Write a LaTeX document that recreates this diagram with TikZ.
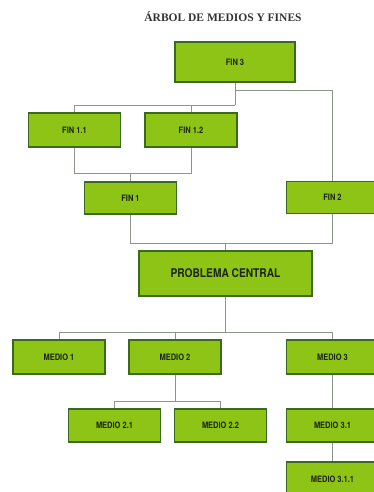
\documentclass[tikz,border=0pt]{standalone}
\usepackage{fontspec}
\setmainfont{Liberation Serif}
\newfontfamily\boxfont[FakeStretch=0.85]{TeX Gyre Heros}
\definecolor{boxfill}{RGB}{142,196,22}
\definecolor{boxline}{RGB}{58,106,30}
\definecolor{linkgray}{RGB}{140,150,140}
\definecolor{labelink}{RGB}{28,36,18}
\tikzset{
  goalbox/.style={draw=boxline, line width=1.2pt, fill=boxfill,
    minimum width=92pt, minimum height=34pt, inner sep=0pt,
    text=labelink, font=\boxfont\bfseries\fontsize{8.8}{10}\selectfont},
  link/.style={draw=linkgray, line width=0.9pt}
}
\begin{document}
\begin{tikzpicture}[x=1pt, y=-1pt]
  \useasboundingbox (0,0) rectangle (374,492);
  \clip (0,0) rectangle (374,492);

  % title
  \node[font=\bfseries\fontsize{11.5}{13}\selectfont, text=black!80] (title) at (223,17) {ÁRBOL DE MEDIOS Y FINES};

  % ends
  \node[goalbox, minimum width=120pt, minimum height=40pt] (fin3) at (235,62) {FIN 3};
  \node[goalbox] (fin11) at (74.5,130) {FIN 1.1};
  \node[goalbox] (fin12) at (191,130) {FIN 1.2};
  \node[goalbox, minimum height=32pt] (fin1) at (130.5,198) {FIN 1};
  \node[goalbox, minimum height=32pt] (fin2) at (332.5,197.5) {FIN 2};

  % central problem
  \node[goalbox, minimum width=173pt, minimum height=45pt,
        font=\boxfont\bfseries\fontsize{12}{14}\selectfont] (pc) at (225.5,273.5) {PROBLEMA CENTRAL};

  % means
  \node[goalbox] (m1) at (59,357) {MEDIO 1};
  \node[goalbox] (m2) at (175,357) {MEDIO 2};
  \node[goalbox] (m3) at (332.5,357) {MEDIO 3};
  \node[goalbox, minimum height=33pt] (m21) at (114.5,425.5) {MEDIO 2.1};
  \node[goalbox, minimum height=33pt] (m22) at (220.5,425.5) {MEDIO 2.2};
  \node[goalbox, minimum height=33pt] (m31) at (332.5,425.5) {MEDIO 3.1};
  \node[goalbox] (m311) at (332.5,479) {MEDIO 3.1.1};

  % junction points
  \coordinate (j3a) at (235,90);
  \coordinate (j3b) at (235,105);
  \coordinate (j1) at (130.5,173);
  \coordinate (jpc) at (225.5,243);
  \coordinate (jm) at (225.5,332);
  \coordinate (j2) at (175,401);

  % connectors, ends
  \draw[link] (fin3.south) -- (j3b);
  \draw[link] (j3a) -| (fin2.north);
  \draw[link] (fin11.north) |- (j3b);
  \draw[link] (fin12.north) -- (fin12.north |- j3b);
  \draw[link] (fin11.south) |- (j1);
  \draw[link] (fin12.south) |- (j1);
  \draw[link] (j1) -- (fin1.north);
  \draw[link] (fin1.south) |- (jpc);
  \draw[link] (fin2.south) |- (jpc);
  \draw[link] (jpc) -- (pc.north);

  % connectors, means
  \draw[link] (pc.south) -- (jm);
  \draw[link] (m1.north) |- (jm);
  \draw[link] (m3.north) |- (jm);
  \draw[link] (m2.north) -- (m2.north |- jm);
  \draw[link] (m2.south) -- (j2);
  \draw[link] (m21.north) |- (j2);
  \draw[link] (m22.north) |- (j2);
  \draw[link] (m3.south) -- (m31.north);
  \draw[link] (m31.south) -- (m311.north);
\end{tikzpicture}
\end{document}
